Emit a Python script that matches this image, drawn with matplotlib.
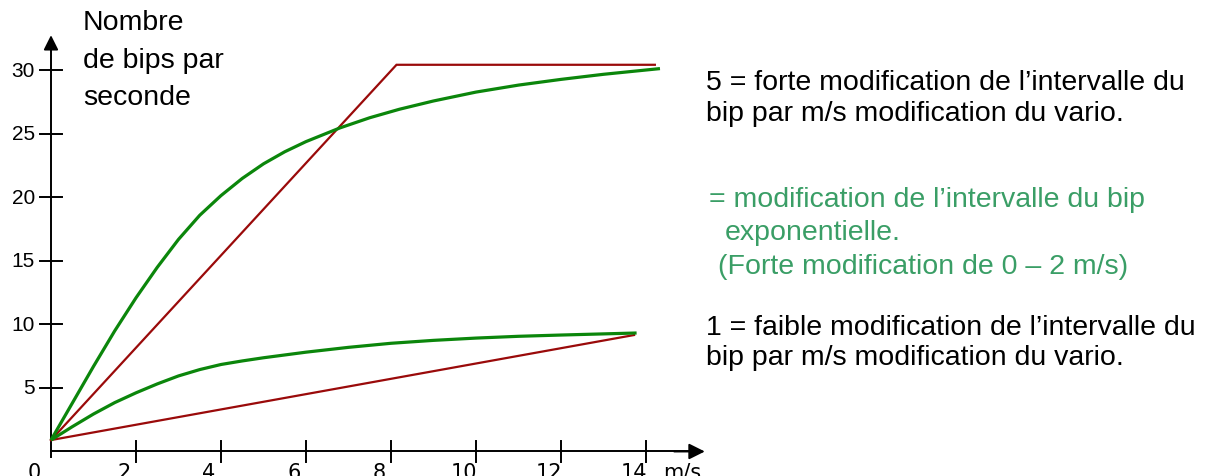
import matplotlib.pyplot as plt

# Données (vario en m/s, bips par seconde)
vario_exp_fort = [0, 0.5, 1.0, 1.5, 2.0, 2.5, 3.0, 3.5, 4.0, 4.5, 5.0, 5.5, 6.0,
                  6.8, 7.5, 8.2, 9.0, 10.0, 11.0, 12.0, 13.0, 14.33]
bips_exp_fort = [0.9, 3.8, 6.7, 9.5, 12.1, 14.5, 16.7, 18.6, 20.15, 21.5, 22.65, 23.6, 24.4,
                 25.48, 26.28, 26.95, 27.6, 28.3, 28.85, 29.3, 29.7, 30.15]

vario_exp_faible = [0, 0.5, 1.0, 1.5, 2.0, 2.5, 3.0, 3.5, 4.0, 4.5, 5.0, 5.5, 6.0,
                    7.0, 8.0, 9.0, 10.0, 11.0, 12.0, 13.0, 13.78]
bips_exp_faible = [0.9, 1.95, 2.95, 3.85, 4.62, 5.32, 5.95, 6.45, 6.85, 7.13, 7.38, 7.6, 7.82,
                   8.2, 8.52, 8.75, 8.93, 9.07, 9.17, 9.26, 9.33]

vario_lin_5 = [0, 8.13, 14.21]
bips_lin_5 = [0.9, 30.45, 30.45]

vario_lin_1 = [0, 13.72]
bips_lin_1 = [0.9, 9.17]

x_ticks = [2, 4, 6, 8, 10, 12, 14]
y_ticks = [5, 10, 15, 20, 25, 30]

vert = '#0b860b'
rouge = '#9a0a0a'
vert_texte = '#3a9e66'

fig = plt.figure(figsize=(12.12, 4.77), dpi=100)
ax = fig.add_axes([0, 0, 1, 1])
ax.set_xlim(-1.2, 27.32)
ax.set_ylim(-1.93, 35.63)
ax.axis('off')

# Axes avec flèches
ax.plot([0, 0], [-0.4, 32], color='black', lw=1.4)
ax.annotate('', xy=(0, 33.0), xytext=(0, 31.5),
            arrowprops=dict(arrowstyle='-|>', color='black', lw=1.4, mutation_scale=22))
ax.plot([0, 15.0], [0, 0], color='black', lw=1.4)
ax.annotate('', xy=(15.45, 0), xytext=(14.6, 0),
            arrowprops=dict(arrowstyle='-|>', color='black', lw=1.4, mutation_scale=24))

for t in x_ticks:
    ax.plot([t, t], [-0.8, 0.85], color='black', lw=1.4)
    ax.text(t - 0.28, -0.8, str(t), ha='center', va='top', fontsize=15,
            family='DejaVu Sans')
ax.text(-0.4, -0.8, '0', ha='center', va='top', fontsize=15, family='DejaVu Sans')
ax.text(14.85, -0.8, 'm/s', ha='center', va='top', fontsize=15, family='DejaVu Sans')

for t in y_ticks:
    ax.plot([-0.26, 0.26], [t, t], color='black', lw=1.4)
    ax.text(-0.38, t, str(t), ha='right', va='center', fontsize=15,
            family='Liberation Sans')

# Courbes
ax.plot(vario_lin_5, bips_lin_5, color=rouge, lw=1.6, solid_joinstyle='miter')
ax.plot(vario_lin_1, bips_lin_1, color=rouge, lw=1.6)
ax.plot(vario_exp_fort, bips_exp_fort, color=vert, lw=2.3, solid_capstyle='butt')
ax.plot(vario_exp_faible, bips_exp_faible, color=vert, lw=2.3, solid_capstyle='butt')

# Titre de l'axe y
fs = 20.5
for txt, y in [('Nombre', 33.8), ('de bips par', 30.85), ('seconde', 27.95)]:
    ax.text(0.75, y, txt, ha='left', va='center', fontsize=fs, family='Liberation Sans')

# Légende en texte
ax.text(15.41, 29.1, '5 = forte modification de l’intervalle du', ha='left', va='center',
        fontsize=fs, family='Liberation Sans')
ax.text(15.41, 26.65, 'bip par m/s modification du vario.', ha='left', va='center',
        fontsize=fs, family='Liberation Sans')
ax.text(15.48, 19.9, '= modification de l’intervalle du bip', ha='left', va='center',
        fontsize=fs, family='Liberation Sans', color=vert_texte)
ax.text(15.86, 17.3, 'exponentielle.', ha='left', va='center',
        fontsize=fs, family='Liberation Sans', color=vert_texte)
ax.text(15.69, 14.63, '(Forte modification de 0 – 2 m/s)', ha='left', va='center',
        fontsize=fs, family='Liberation Sans', color=vert_texte)
ax.text(15.41, 9.82, '1 = faible modification de l’intervalle du', ha='left', va='center',
        fontsize=fs, family='Liberation Sans')
ax.text(15.41, 7.46, 'bip par m/s modification du vario.', ha='left', va='center',
        fontsize=fs, family='Liberation Sans')

fig.savefig('out.png', dpi=100)
